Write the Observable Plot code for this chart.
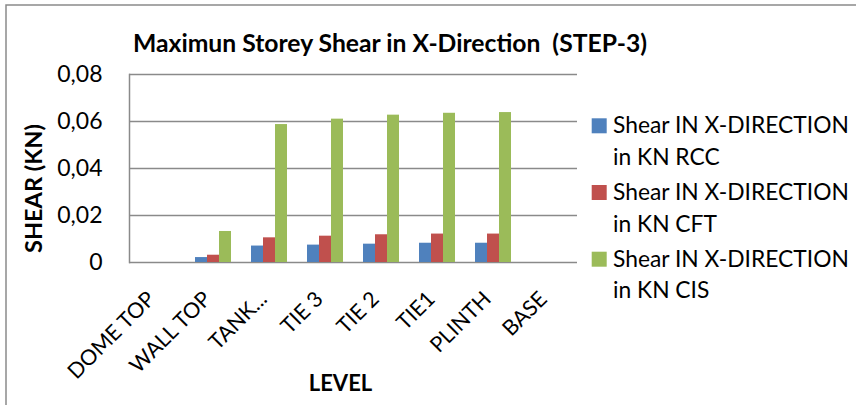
<!DOCTYPE html>
<html><head><meta charset="utf-8">
<script src="https://cdn.jsdelivr.net/npm/d3@7"></script>
<script src="https://cdn.jsdelivr.net/npm/@observablehq/plot@0.6"></script>
<style>
  body { margin: 0; background: #fff; }
  #wrap { position: relative; width: 856px; height: 405px; overflow: hidden; font-family: Lato, sans-serif; }
  #wrap svg { position: absolute; left: 0; top: 0; }
</style>
</head><body>
<div id="wrap"></div>
<script>
// ---- data ----
const levels = ["DOME TOP", "WALL TOP", "TANK...", "TIE 3", "TIE 2", "TIE1", "PLINTH", "BASE"];
const seriesKeys = ["RCC", "CFT", "CIS"];
const seriesLine1 = ["Shear IN X-DIRECTION", "Shear IN X-DIRECTION", "Shear IN X-DIRECTION"];
const seriesLine2 = ["in KN RCC", "in KN CFT", "in KN CIS"];
const rcc = [0, 0.0021, 0.0070, 0.0074, 0.0078, 0.0082, 0.0082, 0];
const cft = [0, 0.0031, 0.0105, 0.0112, 0.0118, 0.0121, 0.0121, 0];
const cis = [0, 0.0132, 0.0587, 0.0610, 0.0627, 0.0635, 0.0638, 0];
const yTicks = [0, 0.02, 0.04, 0.06, 0.08];
const colors = ["#4F81BD", "#C0504D", "#9BBB59"];
const title = "Maximun Storey Shear in X-Direction  (STEP-3)";
const yTitle = "SHEAR (KN)";
const xTitle = "LEVEL";

const valuesBySeries = [rcc, cft, cis];
const table = [];
levels.forEach((lv, i) => seriesKeys.forEach((s, j) => table.push({level: lv, series: s, value: valuesBySeries[j][i]})));

const grey = "#8a8a8a";
const chart = Plot.plot({
  width: 856, height: 405,
  marginLeft: 127, marginRight: 278, marginTop: 74, marginBottom: 143,
  style: {fontFamily: "Lato, sans-serif", color: "#000", background: "transparent"},
  fx: {domain: levels, paddingInner: 0, paddingOuter: 0, label: null},
  x: {domain: seriesKeys, paddingInner: 0, paddingOuter: 0.726, axis: null},
  y: {domain: [0, 0.08], label: null},
  color: {domain: seriesKeys, range: colors},
  marks: [
    Plot.gridY(yTicks, {stroke: grey, strokeOpacity: 1, strokeWidth: 1.5}),
    Plot.barY(table, {fx: "level", x: "series", y: "value", fill: "series"}),
    Plot.frame({anchor: "left", facetAnchor: "left", stroke: grey, strokeWidth: 1.5}),
    Plot.axisY(yTicks, {tickSize: 0, tickPadding: 27, fontSize: 23, label: null,
      tickFormat: d => d === 0 ? "0" : d.toFixed(2).replace(".", ",")}),
    Plot.axisFx({anchor: "bottom", tickRotate: -45, tickSize: 0, tickPadding: 33, dx: -6, fontSize: 21.5, label: null})
  ]
});
const wrap = document.getElementById("wrap");
wrap.appendChild(chart);

// ---- overlay: frame border, titles, legend ----
const ov = d3.select(wrap).append("svg").attr("width", 856).attr("height", 405)
  .style("font-family", "Lato, sans-serif").style("pointer-events", "none");
ov.append("path").attr("d", "M856,5H6V405").attr("fill", "none").attr("stroke", grey).attr("stroke-width", 1.5);
ov.append("text").attr("x", 133).attr("y", 52).attr("font-weight", "bold").attr("font-size", 24.7)
  .style("white-space", "pre").text(title);
ov.append("text").attr("transform", "translate(42,188.5) rotate(-90)").attr("text-anchor", "middle")
  .attr("font-weight", "bold").attr("font-size", 23.5).text(yTitle);
ov.append("text").attr("x", 340.5).attr("y", 391).attr("text-anchor", "middle")
  .attr("font-weight", "bold").attr("font-size", 22).text(xTitle);
const lg = ov.append("g");
seriesKeys.forEach((s, i) => {
  const y0 = 133.3 + 66.7 * i;
  lg.append("rect").attr("x", 591.7).attr("y", y0 - 15).attr("width", 15).attr("height", 15).attr("fill", colors[i]);
  lg.append("text").attr("x", 613).attr("y", y0).attr("font-size", 22.8).text(seriesLine1[i]);
  lg.append("text").attr("x", 613).attr("y", y0 + 31.7).attr("font-size", 22.8).text(seriesLine2[i]);
});
</script></body></html>
